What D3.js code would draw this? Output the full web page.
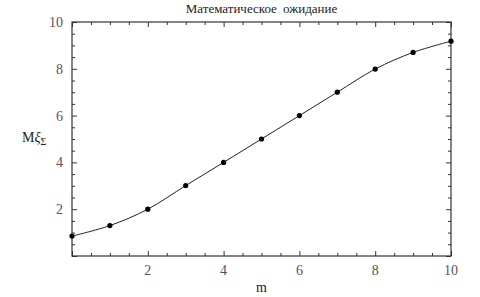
<!DOCTYPE html>
<html>
<head>
<meta charset="utf-8">
<script src="https://cdn.jsdelivr.net/npm/d3@7"></script>
<style>
  body { margin: 0; background: #fff; }
</style>
</head>
<body>
<div id="chart"></div>
<script>
// m values and mean values
const mValues = [0, 1, 2, 3, 4, 5, 6, 7, 8, 9, 10];
const meanValues = [0.85, 1.30, 2.0, 3.01, 4.0, 5.0, 6.0, 7.0, 7.99, 8.70, 9.18];
const xTickLabels = [2, 4, 6, 8, 10];
const yTickLabels = [2, 4, 6, 8, 10];

const fullWidth = 480, fullHeight = 297;
const margin = { top: 22, right: 29, bottom: 41, left: 72 };
const width = fullWidth - margin.left - margin.right;
const height = fullHeight - margin.top - margin.bottom;
const serif = "Liberation Serif";

const svg = d3.select("#chart")
    .append("svg")
    .attr("width", fullWidth)
    .attr("height", fullHeight);

const g = svg.append("g")
    .attr("transform", `translate(${margin.left},${margin.top})`);

const x = d3.scaleLinear().domain([0, 10]).range([0, width]);
const y = d3.scaleLinear().domain([0, 10]).range([height, 0]);

const minorTicks = d3.range(0, 10.01, 0.5);
const frameColor = "#333";

// inward ticks on all four sides
g.append("g").attr("transform", `translate(0,${height})`)
    .call(d3.axisBottom(x).tickValues(minorTicks).tickFormat("").tickSize(0))
    .call(s => s.select(".domain").remove())
    .selectAll(".tick line")
    .attr("stroke", frameColor)
    .attr("y2", d => (d % 2 === 0 ? -5 : -3));
g.append("g")
    .call(d3.axisTop(x).tickValues(minorTicks).tickFormat("").tickSize(0))
    .call(s => s.select(".domain").remove())
    .selectAll(".tick line")
    .attr("stroke", frameColor)
    .attr("y2", d => (d % 2 === 0 ? 5 : 3));
g.append("g")
    .call(d3.axisLeft(y).tickValues(minorTicks).tickFormat("").tickSize(0))
    .call(s => s.select(".domain").remove())
    .selectAll(".tick line")
    .attr("stroke", frameColor)
    .attr("x2", d => (d % 2 === 0 ? 5 : 3));
g.append("g").attr("transform", `translate(${width},0)`)
    .call(d3.axisRight(y).tickValues(minorTicks).tickFormat("").tickSize(0))
    .call(s => s.select(".domain").remove())
    .selectAll(".tick line")
    .attr("stroke", frameColor)
    .attr("x2", d => (d % 2 === 0 ? -5 : -3));

// frame
g.append("rect")
    .attr("width", width)
    .attr("height", height)
    .attr("fill", "none")
    .attr("stroke", frameColor)
    .attr("stroke-width", 1.2);

// tick labels
g.selectAll(".xlab")
    .data(xTickLabels)
    .enter()
    .append("text")
    .attr("class", "xlab")
    .attr("x", d => x(d))
    .attr("y", height + 19)
    .attr("text-anchor", "middle")
    .attr("font-family", serif)
    .style("font-size", "14px")
    .style("fill", "#555")
    .text(d => d);

g.selectAll(".ylab")
    .data(yTickLabels)
    .enter()
    .append("text")
    .attr("class", "ylab")
    .attr("x", -9)
    .attr("y", d => y(d))
    .attr("dy", "0.35em")
    .attr("text-anchor", "end")
    .attr("font-family", serif)
    .style("font-size", "14px")
    .style("fill", "#555")
    .text(d => d);

// curve
const pts = mValues.map((m, i) => [m, meanValues[i]]);
const line = d3.line()
    .x(d => x(d[0]))
    .y(d => y(d[1]))
    .curve(d3.curveCatmullRom);

g.append("path")
    .datum(pts)
    .attr("d", line)
    .attr("fill", "none")
    .attr("stroke", "#222")
    .attr("stroke-width", 1);

g.selectAll(".dot")
    .data(pts)
    .enter()
    .append("circle")
    .attr("class", "dot")
    .attr("cx", d => x(d[0]))
    .attr("cy", d => y(d[1]))
    .attr("r", 2.6)
    .attr("fill", "#000");

// title
svg.append("text")
    .attr("x", margin.left + width / 2)
    .attr("y", 13)
    .attr("text-anchor", "middle")
    .attr("font-family", serif)
    .style("font-size", "13px")
    .style("fill", "#222")
    .style("word-spacing", "3px")
    .text("Математическое  ожидание");

// axis labels
svg.append("text")
    .attr("x", margin.left + width / 2)
    .attr("y", 292)
    .attr("text-anchor", "middle")
    .attr("font-family", serif)
    .style("font-size", "14px")
    .style("fill", "#222")
    .text("m");

const yl = svg.append("text")
    .attr("x", 22)
    .attr("y", 142)
    .attr("font-family", serif)
    .style("font-size", "14px")
    .style("fill", "#222");
yl.append("tspan").text("M");
yl.append("tspan").style("font-style", "italic").text("ξ");
yl.append("tspan").attr("dy", 3).style("font-size", "10px").text("Σ");
</script>
</body>
</html>
